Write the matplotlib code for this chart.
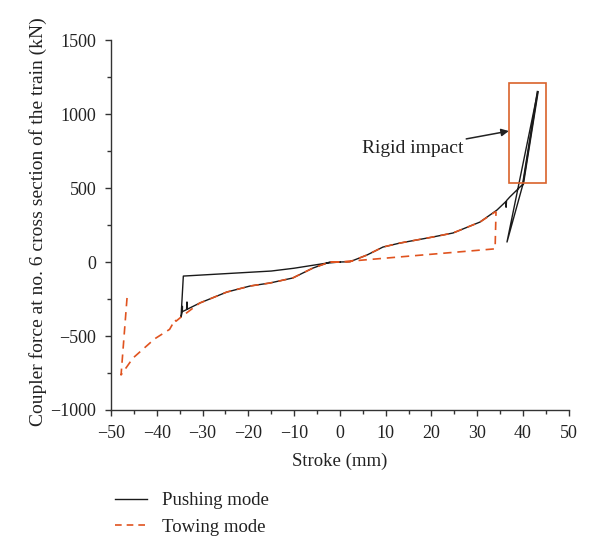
import matplotlib
matplotlib.use("Agg")
import matplotlib.pyplot as plt
from matplotlib.patches import Rectangle
from matplotlib.lines import Line2D

plt.rcParams['font.family'] = ['Liberation Serif', 'DejaVu Serif']

# Pushing mode (black)
push_x = [0, -2.2, -5.9, -10.3, -15.3, -19.6, -24.7, -30.6, -33.4, -33.4, -33.5, -34.4, -34.4, -34.5, -34.7,
          -34.2, -15, -10, -3, 0,
          2.2, 5.9, 9.4, 13.1, 20.3, 24.7, 30.6, 34.3, 36.3, 36.3, 36.4, 37.1, 40, 43.2, 36.5, 40]
push_y = [0, 0, -41, -108, -142, -162, -203, -277, -320, -270, -322, -335, -300, -345, -372,
          -95, -61, -42, -8, 0,
          2, 47, 101, 128, 169, 196, 270, 351, 410, 370, 415, 439, 527, 1149, 135, 527]

# Towing mode (red dashed)
tow_x = [-46.5, -47.8, -45.2, -40.5, -37.2, -36.0, -35.8, -34.7, -30.6, -24.7, -19.6, -15.3, -10.3, -5.9,
         -2.2, 2.2, 5.9, 9.4, 13.1, 20.3, 24.7, 30.6, 33.9, 34.1, 33.9, 0, -2.2]
tow_y = [-243, -763, -649, -520, -455, -390, -400, -372, -277, -203, -162, -142, -108, -41,
         0, 2, 47, 101, 128, 169, 196, 270, 338, 338, 89, 0, 0]

fig = plt.figure(figsize=(6, 5.56), dpi=100)
ax = fig.add_axes([0.185, 0.2626, 0.763, 0.6654])

ax.plot(push_x, push_y, color='#1a1a1a', lw=1.0, zorder=2)
ax.plot(push_x[-4:-2], push_y[-4:-2], color='#1a1a1a', lw=1.6, zorder=2)
ax.plot(tow_x, tow_y, color='#e0531f', lw=1.2, ls=(0, (5, 3.5)), zorder=3)

ax.add_patch(Rectangle((36.9, 534), 8.1, 675, fill=False, edgecolor='#d9622b', lw=1.2, zorder=4))
ax.annotate('Rigid impact', xy=(36.9, 885), xytext=(15.9, 765), fontsize=14,
            ha='center', va='center', color='#222222',
            arrowprops=dict(arrowstyle='-|>', color='#222222', lw=1.1, shrinkA=55, shrinkB=0,
                            mutation_scale=11))

ax.set_xlim(-50, 50)
ax.set_ylim(-1000, 1500)
ax.set_xticks(range(-50, 51, 10))
ax.set_xticks(range(-45, 50, 10), minor=True)
ax.set_yticks(range(-1000, 1501, 500))
ax.set_yticks(range(-750, 1500, 500), minor=True)
ax.set_xticklabels(['\u221250', '\u221240', '\u221230', '\u221220', '\u221210', '0', '10', '20', '30', '40', '50'])
ax.set_yticklabels(['\u22121000', '\u2212500', '0', '500', '1000', '1500'])
for s in ['top', 'right']:
    ax.spines[s].set_visible(False)
for s in ['left', 'bottom']:
    ax.spines[s].set_color('#333333')
    ax.spines[s].set_linewidth(1.0)
ax.tick_params(which='major', direction='out', length=4.5, width=1.0, labelsize=13, colors='#333333',
               labelcolor='#222222', pad=6)
ax.tick_params(which='minor', direction='out', length=3, width=1.0, colors='#333333')
ax.set_xlabel('Stroke (mm)', fontsize=13.5, color='#222222', labelpad=8)
ax.set_ylabel('Coupler force at no. 6 cross section of the train (kN)', fontsize=14, color='#222222',
              labelpad=7)
ax.yaxis.set_label_coords(-0.14, 0.508)

handles = [Line2D([], [], color='#1a1a1a', lw=1.0),
           Line2D([], [], color='#e0531f', lw=1.2, ls=(0, (4, 3)))]
fig.legend(handles, ['Pushing mode', 'Towing mode'], loc='upper left',
           bbox_to_anchor=(0.163, 0.145), frameon=False, fontsize=13.5,
           handlelength=1.75, handletextpad=0.75, labelspacing=0.5, labelcolor='#222222')

fig.savefig('out.png', dpi=100)
